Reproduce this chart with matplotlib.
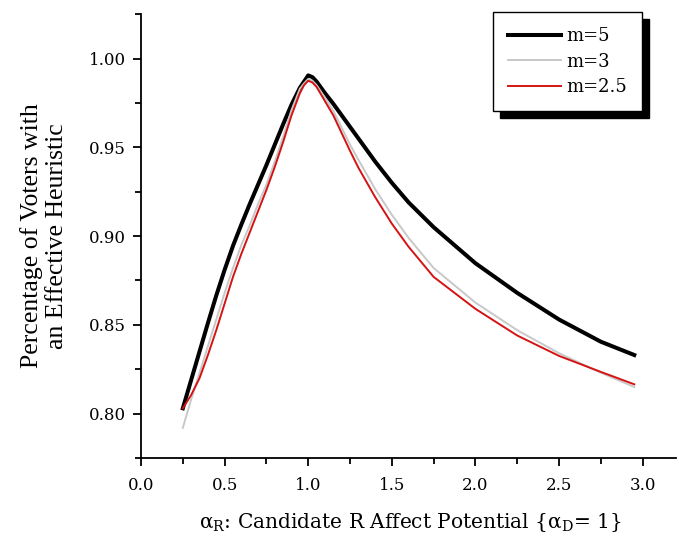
import matplotlib
matplotlib.use("Agg")
import matplotlib.pyplot as plt
from matplotlib.ticker import MultipleLocator, FormatStrFormatter

plt.rcParams['font.family'] = ['DejaVu Serif']
plt.rcParams['mathtext.fontset'] = 'dejavuserif'

# alpha_R values and voter shares
alpha_r = [0.25, 0.30, 0.35, 0.40, 0.45, 0.50, 0.55, 0.60, 0.65, 0.70, 0.75,
           0.80, 0.85, 0.90, 0.95, 0.975, 1.00, 1.025, 1.05, 1.10, 1.15,
           1.20, 1.25, 1.30, 1.40, 1.50, 1.60, 1.75, 2.00, 2.25, 2.50,
           2.75, 2.95]
m5 = [0.803, 0.819, 0.835, 0.851, 0.8665, 0.881, 0.8945, 0.9065, 0.918, 0.929, 0.940,
      0.9515, 0.963, 0.974, 0.9835, 0.987, 0.9905, 0.9895, 0.987, 0.9805, 0.9745,
      0.968, 0.9615, 0.955, 0.942, 0.930, 0.919, 0.905, 0.8847, 0.868, 0.853,
      0.8405, 0.833]
m3 = [0.792, 0.808, 0.823, 0.838, 0.853, 0.868, 0.882, 0.895, 0.906, 0.918, 0.929,
      0.942, 0.956, 0.971, 0.983, 0.986, 0.9885, 0.9875, 0.985, 0.978, 0.9705,
      0.961, 0.9515, 0.943, 0.9265, 0.912, 0.899, 0.882, 0.8625, 0.847, 0.834,
      0.823, 0.815]
m25 = [0.803, 0.8105, 0.820, 0.833, 0.847, 0.862, 0.877, 0.890, 0.902, 0.914, 0.926,
       0.939, 0.953, 0.968, 0.9805, 0.985, 0.9875, 0.9865, 0.984, 0.976, 0.968,
       0.958, 0.948, 0.9385, 0.922, 0.907, 0.894, 0.877, 0.859, 0.844, 0.8325,
       0.8235, 0.8165]

fig = plt.figure(figsize=(6.79, 5.38), dpi=100)
ax = fig.add_axes([0.2077, 0.1487, 0.788, 0.825])

ax.plot(alpha_r, m5, color='black', lw=2.9, label='m=5')
ax.plot(alpha_r, m3, color='#c8c8c8', lw=1.4, label='m=3')
ax.plot(alpha_r, m25, color='#d41414', lw=1.4, label='m=2.5')

ax.set_xlim(0, 3.2)
ax.set_ylim(0.775, 1.025)
ax.xaxis.set_major_locator(MultipleLocator(0.5))
ax.xaxis.set_minor_locator(MultipleLocator(0.25))
ax.yaxis.set_major_locator(MultipleLocator(0.05))
ax.yaxis.set_minor_locator(MultipleLocator(0.025))
ax.xaxis.set_major_formatter(FormatStrFormatter('%.1f'))
ax.yaxis.set_major_formatter(FormatStrFormatter('%.2f'))

for s in ['top', 'right']:
    ax.spines[s].set_visible(False)
for s in ['left', 'bottom']:
    ax.spines[s].set_linewidth(1.3)
ax.tick_params(which='major', length=6, width=1.3, labelsize=12, direction='out')
ax.tick_params(which='minor', length=4, width=1.3, direction='out')
ax.tick_params(axis='x', pad=8)
ax.tick_params(axis='y', pad=5)

ax.set_xlabel(r'α$_{\mathrm{R}}$: Candidate R Affect Potential {α$_{\mathrm{D}}$= 1}',
              fontsize=14.5)
ax.xaxis.set_label_coords(0.503, -0.12)
ax.set_ylabel('Percentage of Voters with\nan Effective Heuristic', fontsize=18.5,
              family='Liberation Serif', linespacing=1.2)
ax.yaxis.set_label_coords(-0.136, 0.5)

leg = ax.legend(loc='upper right', bbox_to_anchor=(0.9365, 1.0045), fontsize=13,
                handlelength=2.9, handletextpad=0.3, labelspacing=0.4,
                borderpad=0.85, borderaxespad=0, fancybox=False, framealpha=1,
                edgecolor='black',
                shadow={'color': 'black', 'alpha': 1, 'ox': 5, 'oy': -5})
leg.get_frame().set_linewidth(1.0)

fig.savefig('out.png', dpi=100)
